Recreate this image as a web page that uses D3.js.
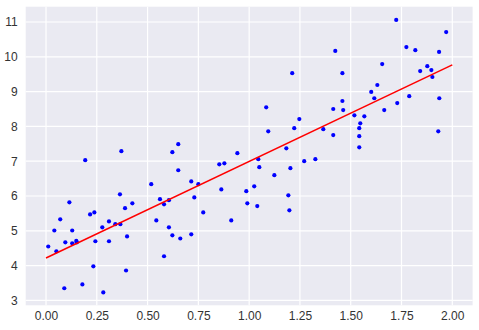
<!DOCTYPE html>
<html>
<head>
<meta charset="utf-8">
<script src="https://cdn.jsdelivr.net/npm/d3@7"></script>
<style>
  html, body { margin: 0; padding: 0; background: #ffffff; }
  svg { display: block; }
  .tick text { font-family: "Liberation Sans Narrow", "Liberation Sans", Arial, sans-serif; }
</style>
</head>
<body>
<svg id="chart" width="479" height="330"></svg>
<script>
// Data points (x, y)
const xValues = [0.193,0.371,1.212,1.084,1.247,1.222,1.094,1.365,0.622,0.651,
  0.942,1.183,1.045,1.271,1.326,0.853,0.878,1.050,1.203,1.724,
  1.970,1.774,1.818,1.424,1.935,1.655,1.459,1.842,1.877,1.897,
  1.902,1.631,1.601,1.616,1.788,1.936,1.459,1.414,1.463,1.665,
  1.729,1.518,1.567,1.547,1.542,1.542,1.542,1.414,1.931,0.518,
  0.364,0.561,0.581,0.605,0.115,0.389,0.425,0.217,0.238,0.070,
  0.543,0.310,0.277,0.341,0.366,0.041,0.129,0.605,0.399,0.095,
  0.129,0.149,0.152,0.243,0.310,0.011,0.051,0.581,0.233,0.394,
  0.090,0.179,0.282,0.651,1.124,0.715,0.750,1.025,0.863,0.986,
  1.193,0.730,0.991,1.040,0.774,1.198,0.912,0.622,0.661,0.715];
const yValues = [7.03,7.29,9.53,8.55,8.21,7.95,7.86,7.92,7.26,7.49,
  7.23,7.37,7.06,7.00,7.06,6.91,6.94,6.83,6.80,11.06,
  10.71,10.28,10.19,10.17,10.14,9.79,9.53,9.59,9.73,9.62,
  9.42,9.19,8.99,8.81,8.87,8.81,8.73,8.50,8.47,8.47,
  8.67,8.32,8.29,8.09,7.95,7.72,7.40,7.75,7.86,6.34,
  6.05,5.91,5.76,5.88,5.82,5.65,5.79,5.47,5.53,5.33,
  5.30,5.27,5.10,5.19,5.19,5.01,5.01,5.10,4.84,4.67,
  4.64,4.71,4.67,4.70,4.70,4.55,4.41,4.27,3.98,3.86,
  3.35,3.46,3.23,6.74,6.60,6.42,6.34,6.28,6.19,6.14,
  6.02,5.96,5.79,5.71,5.53,5.59,5.30,4.87,4.78,4.90];
// Fitted line endpoints
const lineX = [0, 2];
const lineY = [4.22, 9.77];
// Tick labels
const xTicks = [0, 0.25, 0.5, 0.75, 1.0, 1.25, 1.5, 1.75, 2.0];
const yTicks = [3, 4, 5, 6, 7, 8, 9, 10, 11];

const svg = d3.select("#chart");
const margin = {left: 25.7, right: 479 - 472.6, top: 6.7, bottom: 330 - 305.3};
const W = 479, H = 330;

const x = d3.scaleLinear().domain([-0.1, 2.1]).range([margin.left, W - margin.right]);
const y = d3.scaleLinear().domain([2.86, 11.44]).range([H - margin.bottom, margin.top]);

svg.append("rect")
  .attr("x", margin.left).attr("y", margin.top)
  .attr("width", W - margin.left - margin.right)
  .attr("height", H - margin.top - margin.bottom)
  .attr("fill", "#EAEAF2");

// Grid lines
svg.append("g").selectAll("line").data(xTicks).join("line")
  .attr("x1", d => x(d)).attr("x2", d => x(d))
  .attr("y1", margin.top).attr("y2", H - margin.bottom)
  .attr("stroke", "#ffffff").attr("stroke-width", 1.2);
svg.append("g").selectAll("line").data(yTicks).join("line")
  .attr("y1", d => y(d)).attr("y2", d => y(d))
  .attr("x1", margin.left).attr("x2", W - margin.right)
  .attr("stroke", "#ffffff").attr("stroke-width", 1.2);

// Axes (labels only)
const xAxis = d3.axisBottom(x).tickValues(xTicks).tickFormat(d3.format(".2f")).tickSize(0).tickPadding(6);
const yAxis = d3.axisLeft(y).tickValues(yTicks).tickFormat(d3.format("d")).tickSize(0).tickPadding(8);
const gx = svg.append("g").attr("transform", `translate(0,${H - margin.bottom})`).call(xAxis);
const gy = svg.append("g").attr("transform", `translate(${margin.left},0)`).call(yAxis);
[gx, gy].forEach(g => {
  g.select(".domain").remove();
  g.selectAll("text").attr("fill", "#333333").style("font-size", "12px");
});

// Points
const pts = xValues.map((v, i) => ({x: v, y: yValues[i]}));
svg.append("g").selectAll("circle").data(pts).join("circle")
  .attr("cx", d => x(d.x)).attr("cy", d => y(d.y))
  .attr("r", 2.1).attr("fill", "#0000FF");

// Regression line
const lineData = lineX.map((v, i) => ({x: v, y: lineY[i]}));
svg.append("path").datum(lineData)
  .attr("d", d3.line().x(d => x(d.x)).y(d => y(d.y)))
  .attr("stroke", "#FF0000").attr("stroke-width", 1.5).attr("fill", "none");
</script>
</body>
</html>
